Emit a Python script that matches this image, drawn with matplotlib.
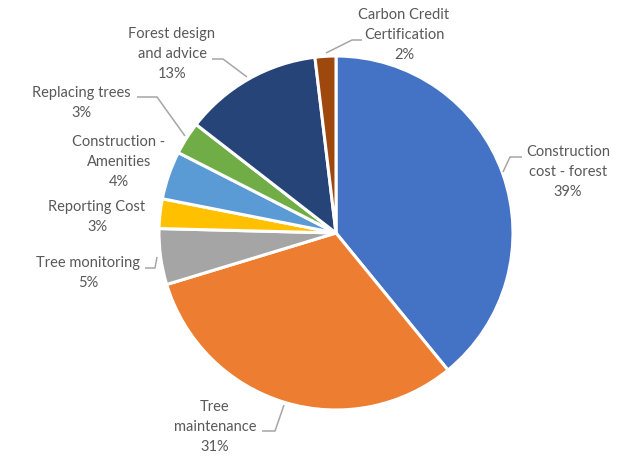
import numpy as np
import matplotlib.pyplot as plt

# data
categories = ["Construction\ncost - forest", "Tree\nmaintenance", "Tree monitoring",
              "Reporting Cost", "Construction -\nAmenities", "Replacing trees",
              "Forest design\nand advice", "Carbon Credit\nCertification"]
values = [39.1, 31.2, 5.1, 2.7, 4.4, 3.0, 12.6, 1.9]
pct_labels = ["39%", "31%", "5%", "3%", "4%", "3%", "13%", "2%"]
colors = ["#4472C4", "#ED7D31", "#A5A5A5", "#FFC000", "#5B9BD5", "#70AD47", "#264478", "#9E480E"]

W, H = 633, 458
fig = plt.figure(figsize=(W / 100, H / 100), dpi=100)
ax = fig.add_axes([0, 0, 1, 1])

def px(x, y):
    # pixel coords (y down) -> data coords (y up)
    return (x, H - y)

cx, cy = px(336, 233)
ax.pie(values, colors=colors, startangle=90, counterclock=False,
       center=(cx, cy), radius=177,
       wedgeprops=dict(edgecolor="white", linewidth=2.2))
ax.set_xlim(0, W)
ax.set_ylim(0, H)
ax.set_aspect("equal")
ax.axis("off")

# label layout: text centre, leader line points (pixels)
text_pos = [(568, 172), (215, 427), (88, 273), (97, 217),
            (119, 162), (81, 103), (172, 54), (404, 35)]
leaders = [
    [(503, 172), (510, 157), (522, 157)],
    [(284, 405), (275, 431), (262, 431)],
    [(157, 257), (155, 268), (145, 268)],
    None,
    None,
    [(185, 136), (157, 97), (137, 97)],
    [(247, 77), (223, 59), (212, 59)],
    [(326, 53), (352, 40), (362, 40)],
]

for name, pct, pos, ld in zip(categories, pct_labels, text_pos, leaders):
    tx, ty = px(*pos)
    ax.text(tx, ty, name + "\n" + pct, ha="center", va="center",
            fontsize=10.5, family=["Lato", "DejaVu Sans"], color="#595959",
            linespacing=1.55)
    if ld is not None:
        pts = [px(*p) for p in ld]
        ax.plot([p[0] for p in pts], [p[1] for p in pts],
                color="#A6A6A6", linewidth=1.1, solid_capstyle="butt")

fig.savefig("out.png", dpi=100)
